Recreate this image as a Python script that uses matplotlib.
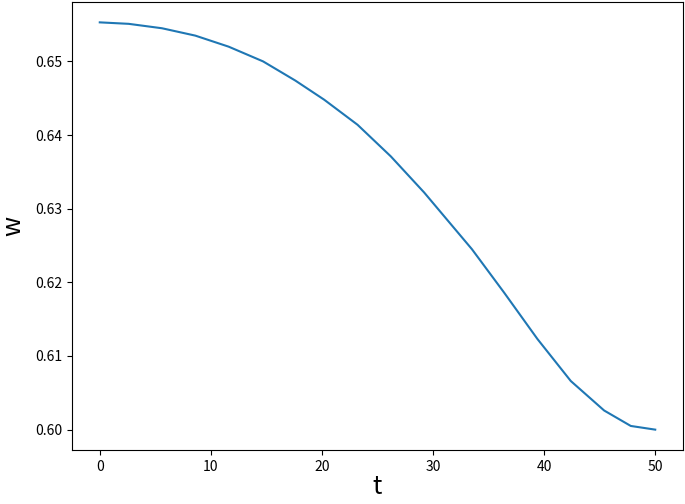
import matplotlib
matplotlib.use('Agg')
import matplotlib.pyplot as plt

plt.rcParams['font.family'] = ['Noto Sans CJK SC', 'DejaVu Sans']
plt.rcParams['axes.unicode_minus'] = False

# valores
t = [0, 2.6, 5.6, 8.6, 11.6, 14.7, 17.6, 20.2, 23.2, 26.2,
     29.2, 31.6, 33.5, 36.4, 39.4, 42.4, 45.4, 47.8, 50]
w = [0.6553, 0.6551, 0.6545, 0.6535, 0.6520, 0.6500, 0.6474, 0.6448, 0.6414, 0.6371,
     0.6322, 0.6279, 0.6245, 0.6186, 0.6123, 0.6066, 0.6026, 0.6005, 0.6000]

fig = plt.figure(figsize=(6.85, 5.04), dpi=100)
ax = fig.add_axes([72 / 685, 54 / 504, 611 / 685, 448 / 504])
ax.plot(t, w, color='#1f77b4', linewidth=1.5)
ax.set_xticks([0, 10, 20, 30, 40, 50])
ax.set_yticks([0.60, 0.61, 0.62, 0.63, 0.64, 0.65])
ax.set_yticklabels(['0.60', '0.61', '0.62', '0.63', '0.64', '0.65'])
ax.set_xlabel('t', fontsize=18, labelpad=0)
ax.set_ylabel('w', fontsize=18, labelpad=6)

plt.savefig('out.png', dpi=100)
plt.close()
